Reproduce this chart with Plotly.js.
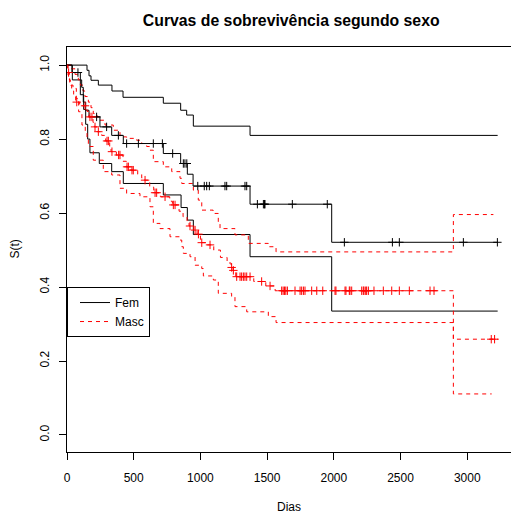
<!DOCTYPE html>
<html>
<head>
<meta charset="utf-8">
<script src="https://cdn.plot.ly/plotly-3.0.1.min.js"></script>
<style>html,body{margin:0;padding:0;overflow:hidden;background:#fff;}#chart{width:511px;height:513px;}</style>
</head>
<body>
<div id="chart"></div>
<script>
// ---- Data ----
// Fem: Kaplan-Meier estimate and 95% confidence limits (step points)
const femKM_t = [0, 37, 100, 110, 122, 140, 165, 247, 335, 422, 722, 852, 902, 945, 1372, 1984, 3228];
const femKM_s = [1.0, 0.98, 0.96, 0.94, 0.90, 0.878, 0.86, 0.833, 0.81, 0.788, 0.761, 0.734, 0.705, 0.673, 0.624, 0.521, 0.521];
const femUp_t = [0, 150, 165, 180, 235, 337, 420, 722, 852, 897, 947, 1372, 3228];
const femUp_s = [1.0, 0.986, 0.971, 0.959, 0.946, 0.93, 0.913, 0.897, 0.878, 0.865, 0.835, 0.81, 0.81];
const femLo_t = [0, 40, 100, 125, 140, 155, 172, 242, 335, 422, 722, 855, 902, 947, 1372, 1984, 3228];
const femLo_s = [1.0, 0.96, 0.92, 0.88, 0.84, 0.80, 0.763, 0.734, 0.712, 0.68, 0.649, 0.615, 0.581, 0.542, 0.482, 0.335, 0.335];
const femCens_t = [82, 222, 297, 385, 447, 535, 647, 715, 792, 872, 884, 898, 980, 1029, 1047, 1067, 1184, 1197, 1334, 1347, 1427, 1472, 1480, 1484, 1689, 1951, 2079, 2439, 2491, 2971, 3226];

// Masc: Kaplan-Meier estimate and 95% confidence limits (step points)
const mascKM_t = [0, 5, 10, 18, 25, 35, 50, 65, 95, 150, 165, 195, 205, 225, 260, 290, 320, 330, 370, 420, 445, 480, 530, 560, 580, 620, 650, 700, 770, 790, 840, 870, 900, 915, 950, 975, 1000, 1050, 1100, 1150, 1200, 1230, 1245, 1265, 1400, 1490, 1560, 2896, 3230];
const mascKM_s = [1.0, 0.99, 0.98, 0.96, 0.945, 0.93, 0.915, 0.90, 0.89, 0.875, 0.86, 0.845, 0.833, 0.82, 0.81, 0.795, 0.78, 0.766, 0.757, 0.74, 0.725, 0.716, 0.705, 0.695, 0.689, 0.67, 0.655, 0.644, 0.632, 0.622, 0.605, 0.59, 0.575, 0.565, 0.554, 0.543, 0.52, 0.514, 0.50, 0.48, 0.465, 0.453, 0.445, 0.428, 0.415, 0.403, 0.39, 0.259, 0.259];
const mascUp_t = [0, 35, 60, 85, 100, 120, 135, 160, 180, 197, 225, 247, 285, 347, 397, 447, 522, 560, 597, 622, 647, 722, 785, 847, 860, 947, 984, 1010, 1095, 1134, 1147, 1259, 1359, 1509, 1567, 2896, 3196];
const mascUp_s = [1.0, 0.99, 0.975, 0.96, 0.946, 0.93, 0.915, 0.90, 0.885, 0.869, 0.86, 0.851, 0.838, 0.824, 0.806, 0.802, 0.797, 0.788, 0.78, 0.77, 0.739, 0.725, 0.712, 0.694, 0.68, 0.662, 0.635, 0.608, 0.599, 0.572, 0.558, 0.541, 0.518, 0.509, 0.495, 0.596, 0.596];
const mascLo_t = [0, 8, 20, 45, 70, 87, 112, 137, 150, 160, 197, 272, 335, 397, 447, 547, 622, 647, 697, 772, 847, 860, 872, 922, 960, 1010, 1022, 1097, 1134, 1234, 1259, 1347, 1509, 1567, 2896, 3183];
const mascLo_s = [1.0, 0.973, 0.946, 0.937, 0.91, 0.874, 0.838, 0.82, 0.80, 0.78, 0.743, 0.712, 0.703, 0.667, 0.653, 0.644, 0.617, 0.572, 0.558, 0.536, 0.527, 0.509, 0.491, 0.482, 0.459, 0.45, 0.43, 0.419, 0.383, 0.374, 0.347, 0.333, 0.32, 0.304, 0.111, 0.111];
const mascCens_t = [12, 73, 135, 172, 187, 210, 235, 300, 310, 337, 387, 397, 450, 460, 487, 497, 585, 660, 672, 735, 797, 810, 922, 960, 985, 1010, 1072, 1234, 1247, 1272, 1297, 1309, 1322, 1334, 1347, 1372, 1459, 1522, 1609, 1620, 1630, 1640, 1652, 1709, 1747, 1759, 1772, 1784, 1834, 1872, 1917, 2009, 2016, 2084, 2091, 2116, 2121, 2134, 2209, 2221, 2226, 2239, 2246, 2259, 2301, 2371, 2434, 2491, 2566, 2721, 2751, 3180, 3205];

const xTicks = [0, 500, 1000, 1500, 2000, 2500, 3000];
const yTicks = [0, 0.2, 0.4, 0.6, 0.8, 1.0];
const yTickText = ['0.0', '0.2', '0.4', '0.6', '0.8', '1.0'];
const groupNames = ['Fem', 'Masc'];

// value of a step curve at time t
function stepAt(ts, ss, t) {
  let v = ss[0];
  for (let i = 0; i < ts.length; i++) { if (ts[i] <= t) v = ss[i]; else break; }
  return v;
}

const black = '#000000', red = '#FF0000';
const dash = '4px,4px';
function stepTrace(x, y, color, d, name, show) {
  return { x: x, y: y, type: 'scatter', mode: 'lines', name: name, showlegend: show,
    line: { shape: 'hv', color: color, width: 1, dash: d }, hoverinfo: 'skip' };
}
function censTrace(ts, kt, ks, color) {
  return { x: ts, y: ts.map(t => stepAt(kt, ks, t)), type: 'scatter', mode: 'markers', showlegend: false,
    marker: { symbol: 'cross-thin', size: 6, color: color, line: { color: color, width: 1 } }, hoverinfo: 'skip' };
}

const data = [
  stepTrace(femUp_t, femUp_s, black, 'solid', 'Fem sup', false),
  stepTrace(femLo_t, femLo_s, black, 'solid', 'Fem inf', false),
  stepTrace(mascUp_t, mascUp_s, red, dash, 'Masc sup', false),
  stepTrace(mascLo_t, mascLo_s, red, dash, 'Masc inf', false),
  stepTrace(femKM_t, femKM_s, black, 'solid', groupNames[0], true),
  stepTrace(mascKM_t, mascKM_s, red, dash, groupNames[1], true),
  censTrace(femCens_t, femKM_t, femKM_s, black),
  censTrace(mascCens_t, mascKM_t, mascKM_s, red)
];

const font = { family: 'Liberation Sans, Arial, sans-serif', size: 12, color: '#000' };
const layout = {
  width: 511, height: 513,
  margin: { l: 67, r: 0, t: 47, b: 61, pad: 0 },
  paper_bgcolor: '#fff', plot_bgcolor: '#fff',
  font: font,
  title: { text: '<b>Curvas de sobrevivência segundo sexo</b>', font: { family: 'Liberation Sans, Arial, sans-serif', size: 15.8, color: '#000' },
    x: 0.505, xref: 'paper', xanchor: 'center', y: 1 - 20 / 513, yref: 'container', yanchor: 'middle' },
  xaxis: { range: [0, 3328], tickvals: xTicks, ticks: 'outside', ticklen: 7, tickwidth: 1, tickcolor: '#000',
    showline: true, linecolor: '#000', linewidth: 1, mirror: true, showgrid: false, zeroline: false,
    ticklabelstandoff: 8, tickfont: font, fixedrange: true },
  yaxis: { range: [-0.046, 1.049], tickvals: yTicks, ticktext: yTickText, tickangle: -90, ticks: 'outside', ticklen: 7,
    tickwidth: 1, tickcolor: '#000', showline: true, linecolor: '#000', linewidth: 1, mirror: false,
    showgrid: false, zeroline: false, ticklabelstandoff: 5, tickfont: font, fixedrange: true },
  legend: { x: 0, xanchor: 'left', y: (0.4 + 0.046) / 1.095, yanchor: 'top', bordercolor: '#000', borderwidth: 1,
    bgcolor: '#fff', font: font, itemwidth: 30, indentation: 7, tracegroupgap: 0 },
  annotations: [
    { text: 'Dias', xref: 'paper', yref: 'paper', x: 0.5, y: -55 / 405, xanchor: 'center', yanchor: 'middle', showarrow: false, font: font },
    { text: 'S(t)', xref: 'paper', yref: 'paper', x: -53 / 444, y: 0.5, textangle: -90, xanchor: 'center', yanchor: 'middle', showarrow: false, font: font }
  ]
};

Plotly.newPlot('chart', data, layout, { displayModeBar: false, staticPlot: true });
</script>
</body>
</html>
